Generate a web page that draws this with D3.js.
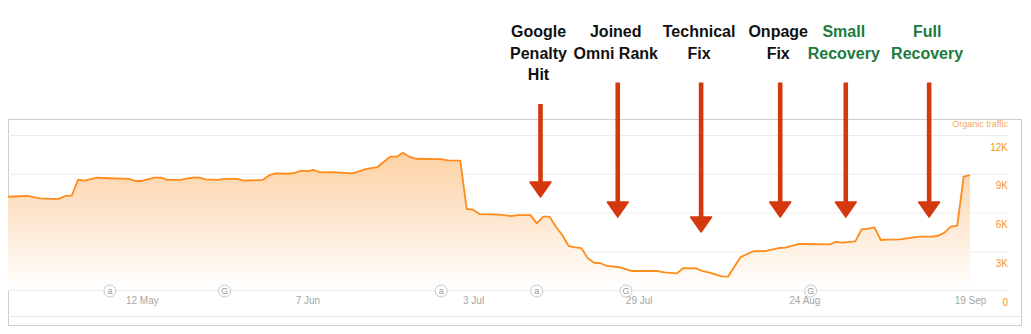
<!DOCTYPE html>
<html>
<head>
<meta charset="utf-8">
<script src="https://cdn.jsdelivr.net/npm/d3@7"></script>
<style>
  body { margin: 0; background: #fff; }
  svg { display: block; }
</style>
</head>
<body>
<div id="chart"></div>
<script>
// organic traffic
var trafficDates = ["2018-04-21","2018-04-24","2018-04-26","2018-04-28","2018-04-29","2018-04-30","2018-05-01","2018-05-02","2018-05-03","2018-05-05",
  "2018-05-07","2018-05-10","2018-05-11","2018-05-12","2018-05-14","2018-05-15","2018-05-16","2018-05-18","2018-05-20","2018-05-21",
  "2018-05-22","2018-05-24","2018-05-25","2018-05-27","2018-05-28","2018-05-31","2018-06-01","2018-06-02","2018-06-04","2018-06-05",
  "2018-06-06","2018-06-07","2018-06-08","2018-06-09","2018-06-11","2018-06-14","2018-06-15","2018-06-16","2018-06-17","2018-06-18",
  "2018-06-19","2018-06-20","2018-06-21","2018-06-22","2018-06-23","2018-06-24","2018-06-28","2018-06-29","2018-07-01","2018-07-02",
  "2018-07-03","2018-07-04","2018-07-07","2018-07-09","2018-07-10","2018-07-12","2018-07-13","2018-07-14","2018-07-15","2018-07-16",
  "2018-07-17","2018-07-18","2018-07-19","2018-07-20","2018-07-21","2018-07-22","2018-07-23","2018-07-24","2018-07-26","2018-07-28",
  "2018-08-01","2018-08-02","2018-08-04","2018-08-05","2018-08-07","2018-08-08","2018-08-09","2018-08-11","2018-08-12","2018-08-14",
  "2018-08-16","2018-08-18","2018-08-19","2018-08-20","2018-08-21","2018-08-23","2018-08-24","2018-08-28","2018-08-29","2018-08-30",
  "2018-09-01","2018-09-02","2018-09-03","2018-09-04","2018-09-05","2018-09-06","2018-09-08","2018-09-11","2018-09-13","2018-09-14",
  "2018-09-15","2018-09-16","2018-09-17","2018-09-18","2018-09-19"];
var trafficValues = [7220,7280,7100,7050,7050,7280,7300,8540,8460,8700,
  8650,8600,8440,8440,8700,8700,8520,8520,8700,8700,
  8570,8520,8600,8600,8460,8520,8880,9030,9000,9060,
  9240,9200,9290,9110,9130,9030,9160,9340,9440,9520,
  9930,10320,10320,10630,10320,10160,10140,10040,10010,6270,
  6220,5880,5830,5730,5800,5800,5160,5680,5680,4900,
  4260,3410,3300,3250,2450,2110,2070,1860,1760,1470,
  1470,1370,1290,1700,1680,1470,1370,1060,1030,2550,
  3000,3020,3150,3250,3280,3560,3560,3530,3720,3660,
  3770,4700,4750,4850,3870,3900,3920,4130,4130,4200,
  4440,4900,4980,8770,8900];

var xTicks = ["2018-05-12","2018-06-07","2018-07-03","2018-07-29","2018-08-24","2018-09-19"];
var yTicks = [0,3000,6000,9000,12000];

// update markers along the axis
var markerDates = ["2018-05-07","2018-05-25","2018-06-28","2018-07-13","2018-07-27","2018-08-25"];
var markerLetters = ["a","G","a","a","G","G"];

// annotations
var noteLines = [["Google","Penalty","Hit"],["Joined","Omni Rank"],["Technical","Fix"],["Onpage","Fix"],["Small","Recovery"],["Full","Recovery"]];
var noteDates = ["2018-07-13 14","2018-07-25 17","2018-08-07 19","2018-08-20 05","2018-08-30 12","2018-09-12 14"];
var noteTips = [7200,5650,4490,5650,5650,5650];
var noteGood = [false,false,false,false,true,true];

var W = 1031, H = 334;
var box = {left: 8, top: 120, right: 1021, bottom: 326};
var plotRight = 1008;

var parseDay = d3.timeParse("%Y-%m-%d");
var parseHour = d3.timeParse("%Y-%m-%d %H");

var data = trafficDates.map(function(d, i) { return {date: parseDay(d), value: trafficValues[i]}; });

var svg = d3.select("#chart").append("svg")
    .attr("width", W)
    .attr("height", H)
    .style("font-family", "'Liberation Sans', Arial, sans-serif");

var x = d3.scaleTime()
    .domain([parseDay("2018-04-21"), parseDay("2018-09-19")])
    .range([box.left, 970]);
var y = d3.scaleLinear()
    .domain([0, 12000])
    .range([290, 135]);

// frame
svg.append("rect")
    .attr("x", box.left + 0.5).attr("y", box.top - 0.5)
    .attr("width", box.right - box.left).attr("height", box.bottom - box.top)
    .attr("fill", "none").attr("stroke", "#cfcfcf");
svg.append("line")
    .attr("x1", box.left).attr("x2", box.right)
    .attr("y1", 316.5).attr("y2", 316.5)
    .attr("stroke", "#e8e8e8");

// gridlines + y labels
var yAxis = svg.append("g")
    .attr("transform", "translate(" + plotRight + ",0)")
    .call(d3.axisLeft(y).tickValues(yTicks).tickSize(plotRight - box.left)
        .tickFormat(function(d) { return d === 0 ? "0" : (d / 1000) + "K"; }));
yAxis.select(".domain").remove();
yAxis.selectAll(".tick line").attr("stroke", "#ececec");
yAxis.selectAll(".tick text")
    .attr("x", 0).attr("dy", "1.5em")
    .attr("text-anchor", "end")
    .attr("fill", "#f7941d")
    .style("font-size", "10px")
    .style("font-family", "'Liberation Sans', Arial, sans-serif");

svg.append("text")
    .attr("x", plotRight).attr("y", 127)
    .attr("text-anchor", "end")
    .attr("fill", "#f9a64e")
    .style("font-size", "9px")
    .text("Organic traffic");

// area
var grad = svg.append("defs").append("linearGradient")
    .attr("id", "fillGrad")
    .attr("gradientUnits", "userSpaceOnUse")
    .attr("x1", 0).attr("x2", 0)
    .attr("y1", y(11000)).attr("y2", y(0));
grad.append("stop").attr("offset", "0%").attr("stop-color", "#fccfa0");
grad.append("stop").attr("offset", "100%").attr("stop-color", "#ffffff");

svg.append("path")
    .datum(data)
    .attr("fill", "url(#fillGrad)")
    .attr("d", d3.area()
        .x(function(d) { return x(d.date); })
        .y0(y(0))
        .y1(function(d) { return y(d.value); }));

svg.append("path")
    .datum(data)
    .attr("fill", "none")
    .attr("stroke", "#ff8c1a")
    .attr("stroke-width", 1.8)
    .attr("stroke-linejoin", "round")
    .attr("d", d3.line()
        .x(function(d) { return x(d.date); })
        .y(function(d) { return y(d.value); }));

// x labels
var xAxis = svg.append("g")
    .attr("transform", "translate(0,294)")
    .call(d3.axisBottom(x).tickValues(xTicks.map(parseDay)).tickSize(0)
        .tickFormat(d3.timeFormat("%-d %b")));
xAxis.select(".domain").remove();
xAxis.selectAll(".tick text")
    .attr("fill", "#a6a6a6")
    .style("font-size", "10px")
    .style("font-family", "'Liberation Sans', Arial, sans-serif");

// markers
var mk = svg.selectAll(".marker")
    .data(markerDates)
    .enter().append("g")
    .attr("class", "marker")
    .attr("transform", function(d) { return "translate(" + x(parseDay(d)) + "," + 291 + ")"; });
mk.append("circle")
    .attr("r", 6)
    .attr("fill", "#fff")
    .attr("stroke", "#c8c8c8");
mk.append("text")
    .attr("text-anchor", "middle")
    .attr("dy", "0.35em")
    .attr("fill", "#9a9a9a")
    .style("font-size", "9px")
    .text(function(d, i) { return markerLetters[i]; });

// annotations with arrows
var lineH = 21.5, firstBase = 37;
var notes = svg.selectAll(".note")
    .data(noteLines)
    .enter().append("g")
    .attr("class", "note");

notes.each(function(lines, i) {
    var g = d3.select(this);
    var cx = x(parseHour(noteDates[i]));
    var col = noteGood[i] ? "#1c7a3d" : "#111111";
    g.selectAll("text")
        .data(lines)
        .enter().append("text")
        .attr("x", cx - 2)
        .attr("y", function(d, j) { return firstBase + j * lineH; })
        .attr("text-anchor", "middle")
        .attr("fill", col)
        .style("font-size", "16px")
        .style("font-weight", "bold")
        .text(function(d) { return d; });

    var top = firstBase + (lines.length - 1) * lineH + 24;
    var tip = y(noteTips[i]);
    g.append("rect")
        .attr("x", cx - 2.3).attr("y", top)
        .attr("width", 4.6).attr("height", tip - 14 - top)
        .attr("fill", "#d4380d");
    g.append("path")
        .attr("d", "M" + (cx - 10.5) + "," + (tip - 15) + "L" + (cx + 10.5) + "," + (tip - 15) + "L" + cx + "," + tip + "Z")
        .attr("fill", "#d4380d")
        .attr("stroke", "#d4380d")
        .attr("stroke-linejoin", "round")
        .attr("stroke-width", 1.5);
});
</script>
</body>
</html>
